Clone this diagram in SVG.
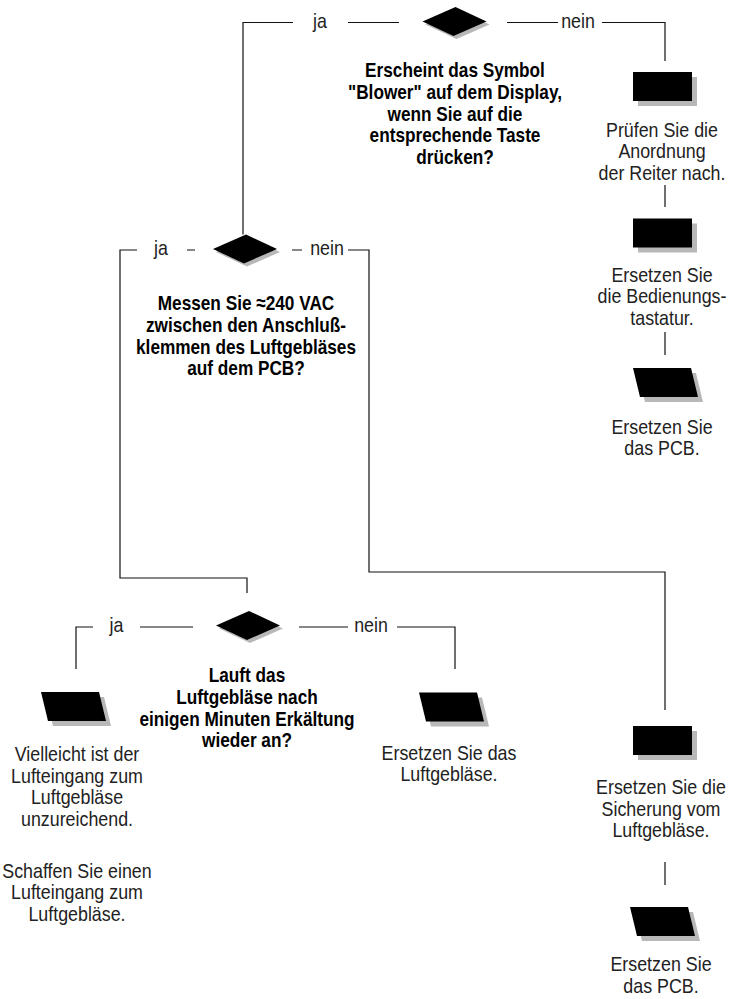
<svg xmlns="http://www.w3.org/2000/svg" xmlns:xlink="http://www.w3.org/1999/xlink" width="735" height="999" viewBox="0 0 735 999">
<style>
.t{font-family:"Liberation Sans",Arial,sans-serif;font-size:21px;fill:#222;text-anchor:middle}
.b{font-weight:bold;fill:#000}
.c{fill:none;stroke:#111;stroke-width:1.2}
.sh{fill:#b8b8b8}
.bk{fill:#000}
</style>
<defs>
<polygon id="dia" points="-32,0 1,-14.5 32,0 -1,14.5"/>
<rect id="box" x="0" y="0" width="59" height="29"/>
<polygon id="para" points="0,0 58,0 65,29 7,29"/>
</defs>
<rect width="735" height="999" fill="#fff"/>
<g id="connectors">
<path class="c" d="M293,22.5 H243 V234.5"/>
<path class="c" d="M348,22.5 H399 M507,22.5 H558"/>
<path class="c" d="M602,22.5 H665 V61"/>
<path class="c" d="M137,250 H120 V578 H247 V593"/>
<path class="c" d="M187,250 H195 M292,250 H302"/>
<path class="c" d="M348,250 H369 V572 H665 V710"/>
<path class="c" d="M93,627 H76 V669"/>
<path class="c" d="M140,627 H193 M299,627 H348"/>
<path class="c" d="M397,627 H455 V669"/>
<path class="c" d="M665,185 V207 M665,332 V355 M665,862 V885"/>
<text class="t" transform="translate(320 0) scale(0.85 1)" x="0" y="28">ja</text>
<text class="t" transform="translate(578 0) scale(0.85 1)" x="0" y="28">nein</text>
<text class="t" transform="translate(161 0) scale(0.85 1)" x="0" y="255.5">ja</text>
<text class="t" transform="translate(327 0) scale(0.85 1)" x="0" y="255.5">nein</text>
<text class="t" transform="translate(116.5 0) scale(0.85 1)" x="0" y="632.5">ja</text>
<text class="t" transform="translate(371 0) scale(0.85 1)" x="0" y="632.5">nein</text>
</g>
<g id="q1">
<use href="#dia" class="sh" x="457.5" y="24.5"/>
<use href="#dia" class="bk" x="454.5" y="21.5"/>
<text class="t b" transform="translate(455 0) scale(0.82 1)"><tspan x="0" y="77">Erscheint das Symbol</tspan><tspan x="0" y="98.8">"Blower" auf dem Display,</tspan><tspan x="0" y="120.6">wenn Sie auf die</tspan><tspan x="0" y="142.4">entsprechende Taste</tspan><tspan x="0" y="164.2">drücken?</tspan></text>
</g>
<g id="a1">
<use href="#box" class="sh" x="638" y="77"/>
<use href="#box" class="bk" x="633" y="72"/>
<text class="t" transform="translate(662 0) scale(0.85 1)"><tspan x="0" y="137">Prüfen Sie die</tspan><tspan x="0" y="158.5">Anordnung</tspan><tspan x="0" y="180">der Reiter nach.</tspan></text>
</g>
<g id="a2">
<use href="#box" class="sh" x="638" y="223.5"/>
<use href="#box" class="bk" x="633" y="218.5"/>
<text class="t" transform="translate(662 0) scale(0.85 1)"><tspan x="0" y="282">Ersetzen Sie</tspan><tspan x="0" y="303.5">die Bedienungs-</tspan><tspan x="0" y="325">tastatur.</tspan></text>
</g>
<g id="a3">
<use href="#para" class="sh" x="638" y="373"/>
<use href="#para" class="bk" x="633" y="368"/>
<text class="t" transform="translate(662 0) scale(0.85 1)"><tspan x="0" y="434">Ersetzen Sie</tspan><tspan x="0" y="455.5">das PCB.</tspan></text>
</g>
<g id="q2">
<use href="#dia" class="sh" x="248" y="252"/>
<use href="#dia" class="bk" x="245" y="249"/>
<text class="t b" transform="translate(246 0) scale(0.82 1)"><tspan x="0" y="310">Messen Sie ≈240 VAC</tspan><tspan x="0" y="331.8">zwischen den Anschluß-</tspan><tspan x="0" y="353.6">klemmen des Luftgebläses</tspan><tspan x="0" y="375.4">auf dem PCB?</tspan></text>
</g>
<g id="q3">
<use href="#dia" class="sh" x="251" y="628.5"/>
<use href="#dia" class="bk" x="248" y="625.5"/>
<text class="t b" transform="translate(247 0) scale(0.82 1)"><tspan x="0" y="682">Lauft das</tspan><tspan x="0" y="703.8">Luftgebläse nach</tspan><tspan x="0" y="725.6">einigen Minuten Erkältung</tspan><tspan x="0" y="747.4">wieder an?</tspan></text>
</g>
<g id="a4">
<use href="#para" class="sh" x="46" y="697"/>
<use href="#para" class="bk" x="41" y="692"/>
<text class="t" transform="translate(77 0) scale(0.85 1)"><tspan x="0" y="761.5">Vielleicht ist der</tspan><tspan x="0" y="783">Lufteingang zum</tspan><tspan x="0" y="804.5">Luftgebläse</tspan><tspan x="0" y="826">unzureichend.</tspan><tspan x="0" y="878">Schaffen Sie einen</tspan><tspan x="0" y="899.5">Lufteingang zum</tspan><tspan x="0" y="921">Luftgebläse.</tspan></text>
</g>
<g id="a5">
<use href="#para" class="sh" x="424" y="697.5"/>
<use href="#para" class="bk" x="419" y="692.5"/>
<text class="t" transform="translate(449 0) scale(0.85 1)"><tspan x="0" y="760">Ersetzen Sie das</tspan><tspan x="0" y="781.5">Luftgebläse.</tspan></text>
</g>
<g id="a6">
<use href="#box" class="sh" x="638" y="731"/>
<use href="#box" class="bk" x="633" y="726"/>
<text class="t" transform="translate(661 0) scale(0.85 1)"><tspan x="0" y="794.5">Ersetzen Sie die</tspan><tspan x="0" y="816">Sicherung vom</tspan><tspan x="0" y="837.5">Luftgebläse.</tspan></text>
</g>
<g id="a7">
<use href="#para" class="sh" x="635" y="912"/>
<use href="#para" class="bk" x="630" y="907"/>
<text class="t" transform="translate(661 0) scale(0.85 1)"><tspan x="0" y="971.5">Ersetzen Sie</tspan><tspan x="0" y="993">das PCB.</tspan></text>
</g>
</svg>
